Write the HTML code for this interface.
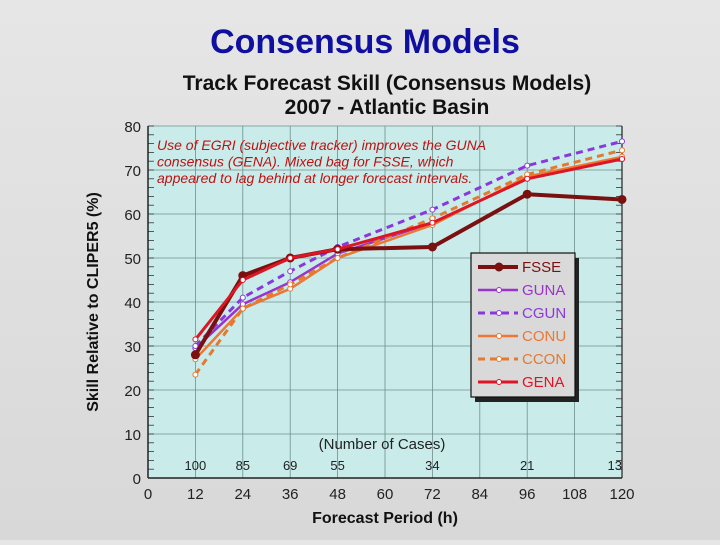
<!DOCTYPE html>
<html><head><meta charset="utf-8"><style>
body{margin:0;width:720px;height:540px;overflow:hidden;background:linear-gradient(#e6e6e6,#d8d8d8);font-family:"Liberation Sans",sans-serif}
</style></head><body>
<svg width="720" height="540" xmlns="http://www.w3.org/2000/svg" font-family="Liberation Sans, sans-serif">
<text x="365" y="53" text-anchor="middle" font-size="34" font-weight="bold" fill="#1010a0">Consensus Models</text>
<text x="387" y="90" text-anchor="middle" font-size="21" font-weight="bold" fill="#111">Track Forecast Skill (Consensus Models)</text>
<text x="387" y="114" text-anchor="middle" font-size="21" font-weight="bold" fill="#111">2007 - Atlantic Basin</text>
<rect x="148" y="126" width="474" height="352" fill="#c9ecea"/>
<g id="grid"></g><g id="axes"></g><g id="series"></g>
<text x="157" y="150" font-size="14" font-style="italic" fill="#c01010"><tspan x="157">Use of EGRI (subjective tracker) improves the GUNA</tspan><tspan x="157" dy="16.5">consensus (GENA).  Mixed bag for FSSE, which</tspan><tspan x="157" dy="16.5">appeared to lag behind at longer forecast intervals.</tspan></text>
<text x="382" y="449" text-anchor="middle" font-size="15" fill="#222">(Number of Cases)</text>
<text x="385" y="523" text-anchor="middle" font-size="16" font-weight="bold" fill="#111">Forecast Period (h)</text>
<text transform="translate(98,302) rotate(-90)" text-anchor="middle" font-size="16" font-weight="bold" fill="#111">Skill Relative to CLIPER5 (%)</text>
<g id="legend"></g>
</svg>
<script>
const hours=[12,24,36,48,72,96,120];
const cases=[100,85,69,55,34,21,13];
const caseHours=[12,24,36,48,72,96,120];
const xTicks=[0,12,24,36,48,60,72,84,96,108,120];
const yTicks=[0,10,20,30,40,50,60,70,80];
const seriesNames=["FSSE","GUNA","CGUN","CONU","CCON","GENA"];
const fsse=[28,46,50,52,52.5,64.5,63.3];
const guna=[29.5,39.5,44.5,51,58,68,72.5];
const cgun=[30,41,47,52.5,61,71,76.5];
const conu=[27,38.5,43,50,57.5,68.5,73];
const ccon=[23.5,38.5,44,50,59,69,74.5];
const gena=[31.5,45,50,52,58,68,72.5];
const NS="http://www.w3.org/2000/svg";
const X=v=>148+v*(474/120), Y=v=>478-v*(352/80);
function mk(t,a,p){const e=document.createElementNS(NS,t);for(const k in a)e.setAttribute(k,a[k]);p.appendChild(e);return e;}
const grid=document.getElementById('grid'),axes=document.getElementById('axes'),ser=document.getElementById('series'),leg=document.getElementById('legend');
xTicks.forEach(t=>{const l=mk('line',{x1:X(t),x2:X(t),y1:126,y2:478,stroke:'#6f8f8c','stroke-width':0.8},grid);


const tx=mk('text',{x:X(t),y:499,'text-anchor':'middle','font-size':15,fill:'#222'},axes);tx.textContent=t;

});
yTicks.forEach(t=>{const l=mk('line',{x1:148,x2:622,y1:Y(t),y2:Y(t),stroke:'#6f8f8c','stroke-width':0.8},grid);


const tx=mk('text',{x:141,y:Y(t)+6,'text-anchor':'end','font-size':15,fill:'#222'},axes);tx.textContent=t;

});
for(let v=0;v<=80;v+=2){mk('line',{x1:148,x2:154,y1:Y(v),y2:Y(v),stroke:'#333','stroke-width':0.8},axes);mk('line',{x1:616,x2:622,y1:Y(v),y2:Y(v),stroke:'#333','stroke-width':0.8},axes);}
mk('line',{x1:148,x2:148,y1:126,y2:478,stroke:'#222','stroke-width':1.5},axes);
mk('line',{x1:148,x2:622,y1:478,y2:478,stroke:'#222','stroke-width':1.5},axes);
mk('line',{x1:622,x2:622,y1:126,y2:478,stroke:'#222','stroke-width':1.2},axes);
cases.forEach((c,i)=>{const tx=mk('text',{x:X(caseHours[i]),y:470,'text-anchor':i==cases.length-1?'end':'middle','font-size':13,fill:'#222'},axes);tx.textContent=c;

});
const data=[fsse,guna,cgun,conu,ccon,gena];
const cols=['#7a1010','#9a33cc','#8a38dd','#ee7733','#e27a30','#dd1525'];
const widths=[4,2.5,3,2.5,3,3];
const dashes=['','','7,5','','7,5',''];
const order=[1,2,3,4,0,5];
order.forEach(s=>{const pts=hours.map((h,i)=>X(h)+','+Y(data[s][i])).join(' ');
const pl=mk('polyline',{points:pts,fill:'none',stroke:cols[s],'stroke-width':widths[s],'stroke-dasharray':dashes[s],'stroke-linejoin':'round'},ser);


hours.forEach((h,i)=>{const c=mk('circle',{cx:X(h),cy:Y(data[s][i]),r:s==0?4:2.5,fill:s==0?cols[0]:'#fff',stroke:cols[s],'stroke-width':1},ser);

});});
mk('rect',{x:475,y:258,width:104,height:144,fill:'#222'},leg);
const box=mk('rect',{x:471,y:253,width:104,height:144,fill:'#d9d9d9',stroke:'#111','stroke-width':1.2},leg);


seriesNames.forEach((n,s)=>{const y=267+s*23;
const g=mk('g',{},leg);


mk('line',{x1:478,x2:518,y1:y,y2:y,stroke:cols[s],'stroke-width':widths[s],'stroke-dasharray':dashes[s]},g);
mk('circle',{cx:499,cy:y,r:s==0?4:2.5,fill:s==0?cols[0]:'#fff',stroke:cols[s]},g);
const t=mk('text',{x:522,y:y+5,'font-size':15,fill:cols[s]},g);t.textContent=n;});
</script>
</body></html>
